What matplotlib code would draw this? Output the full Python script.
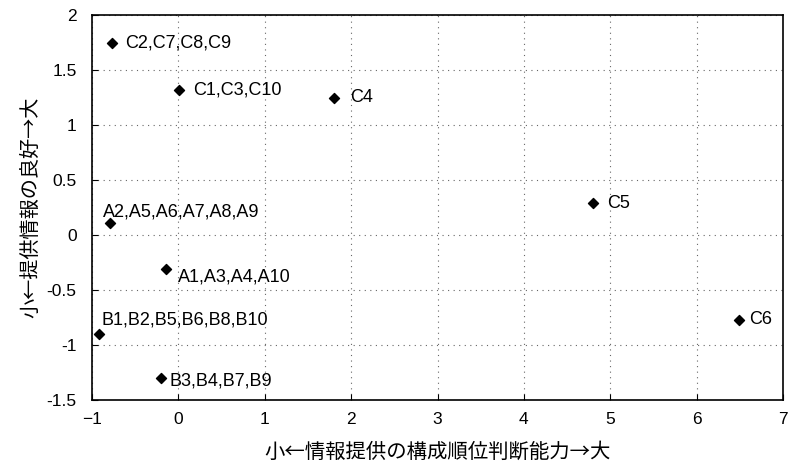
import matplotlib
matplotlib.use("Agg")
import matplotlib.pyplot as plt

plt.rcParams['font.family'] = ['Liberation Sans', 'Noto Sans CJK JP', 'DejaVu Sans']

# データ
etiquetas = ["C2,C7,C8,C9", "C1,C3,C10", "C4", "C5", "C6",
             "A2,A5,A6,A7,A8,A9", "A1,A3,A4,A10", "B1,B2,B5,B6,B8,B10", "B3,B4,B7,B9"]
x_vals = [-0.77, 0.01, 1.80, 4.80, 6.49, -0.79, -0.14, -0.92, -0.20]
y_vals = [1.75, 1.32, 1.25, 0.29, -0.77, 0.11, -0.31, -0.90, -1.30]
# desplazamiento de cada etiqueta (pixeles)
offsets = [(13, 0), (14, 0), (16, 0), (14, 0), (10, 0),
           (-7, 11), (12, -8), (3, 14), (8, -3)]

fig = plt.figure(figsize=(7.89, 4.70), dpi=100)
ax = fig.add_axes([0.1166, 0.149, 0.8758, 0.819])

ax.scatter(x_vals, y_vals, marker='D', s=26, color='black', zorder=3)
for lab, x, y, off in zip(etiquetas, x_vals, y_vals, offsets):
    ax.annotate(lab, (x, y), xytext=off, textcoords='offset pixels',
                fontsize=13, va='center', ha='left')

ax.set_xlim(-1, 7)
ax.set_ylim(-1.5, 2)
ax.set_xticks(range(-1, 8))
ax.set_yticks([-1.5, -1, -0.5, 0, 0.5, 1, 1.5, 2])
ax.set_yticklabels(['-1.5', '-1', '-0.5', '0', '0.5', '1', '1.5', '2'])
ax.grid(True, linestyle=(0, (1, 4)), color='#666666', linewidth=0.8)
ax.tick_params(direction='in', length=4, labelsize=12.5)
ax.tick_params(axis='y', pad=11)
ax.tick_params(axis='x', pad=9)
for s in ax.spines.values():
    s.set_linewidth(1.2)

ax.set_xlabel('小←情報提供の構成順位判断能力→大', fontsize=14.7, labelpad=10,
              family=['Noto Sans CJK JP', 'DejaVu Sans'])
ax.set_ylabel('小←提供情報の良好→大', fontsize=14.5, labelpad=4,
              family=['Noto Sans CJK JP', 'DejaVu Sans'])

fig.savefig('out.png', dpi=100)
